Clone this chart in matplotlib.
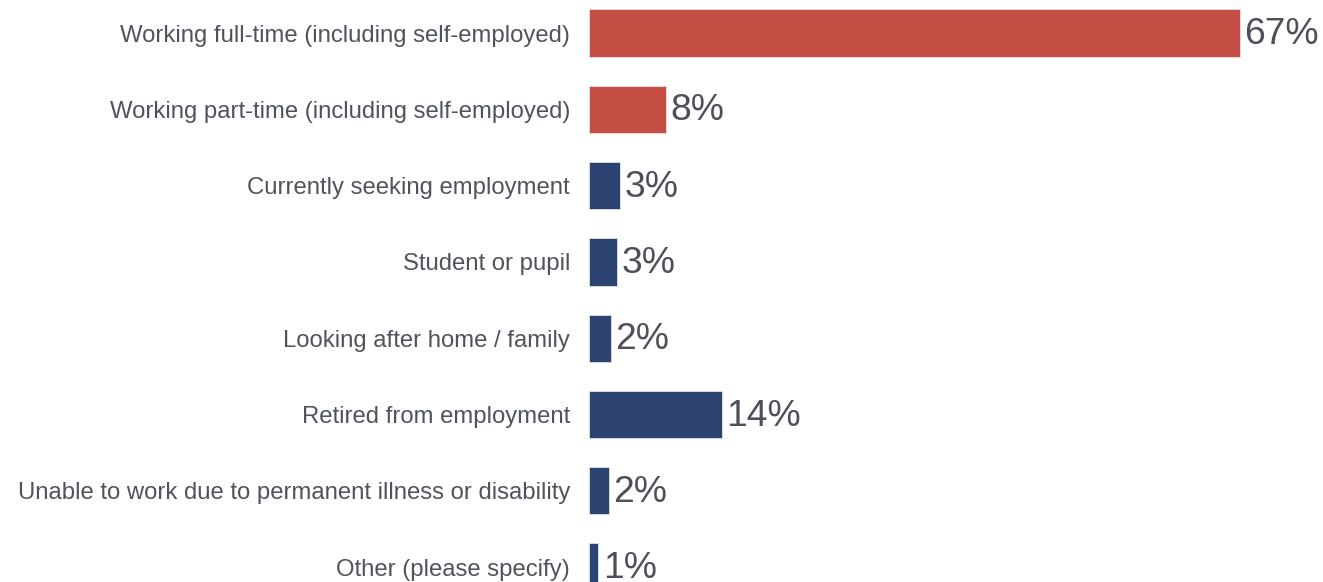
import matplotlib.pyplot as plt

categories = [
    "Working full-time (including self-employed)",
    "Working part-time (including self-employed)",
    "Currently seeking employment",
    "Student or pupil",
    "Looking after home / family",
    "Retired from employment",
    "Unable to work due to permanent illness or disability",
    "Other (please specify)",
]
values = [67.0, 7.9, 3.2, 2.9, 2.3, 13.7, 2.1, 1.0]
labels = ["67%", "8%", "3%", "3%", "2%", "14%", "2%", "1%"]
colors = ["#C44E43", "#C44E43", "#2C4372", "#2C4372", "#2C4372",
          "#2C4372", "#2C4372", "#2C4372"]

plt.rcParams["font.family"] = ["Liberation Sans", "DejaVu Sans"]

fig = plt.figure(figsize=(13.23, 5.82), dpi=100)
ax = fig.add_axes([0.445, 0.0, 0.551, 1.0])

ypos = list(range(len(categories)))
ax.barh(ypos, values, height=0.62, color=colors, edgecolor="#dfe3ea", linewidth=0.6)

for y, v, lab in zip(ypos, values, labels):
    ax.text(v + 0.45, y + 0.02, lab, va="center", ha="left", fontsize=26.8,
            color="#4d5059")

ax.set_xlim(0, 75)
ax.set_ylim(7.195, -0.4325)
ax.set_yticks(ypos)
ax.set_yticklabels(categories, fontsize=17.2, color="#4f535b")
ax.tick_params(axis="y", length=0, pad=13.5)
ax.set_xticks([])
for s in ax.spines.values():
    s.set_visible(False)

fig.savefig("out.png", dpi=100)
